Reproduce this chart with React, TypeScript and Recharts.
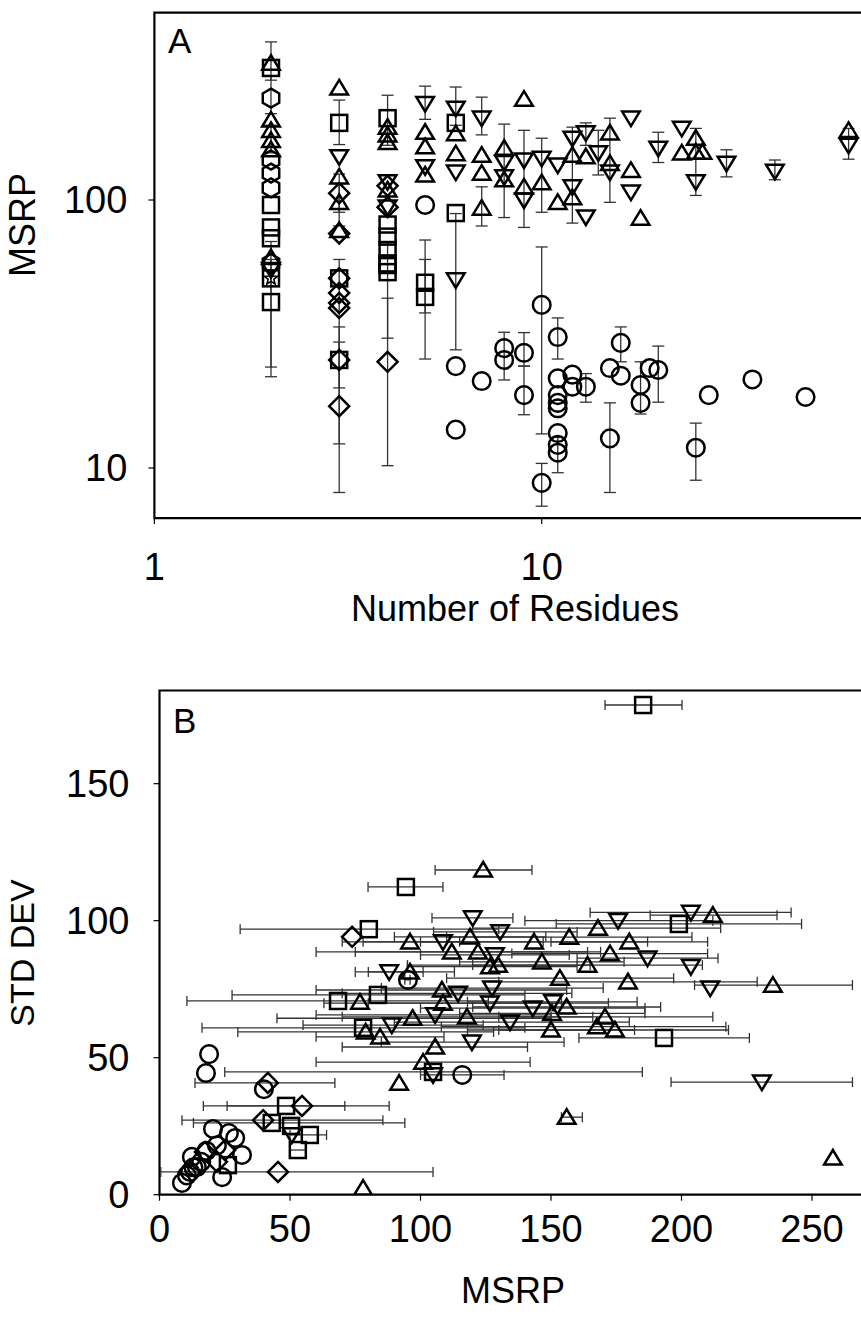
import React from "react";
import {
  ScatterChart,
  Scatter,
  XAxis,
  YAxis,
  ErrorBar,
  ReferenceArea,
} from "recharts";

// [x, y, lower bound, upper bound] – bounds are optional
type Pt = [number, number, number?, number?];

// Panel A: number of residues vs MSRP (log–log), vertical spread bars
const squaresA: Pt[] = [
  [2, 311], [2, 95.8], [2, 79], [2, 72], [2, 51], [2, 41.6, 21.9, 60],
  [3, 194, 161, 236], [3, 51], [3, 25.3, 12.3, 33.6],
  [4, 202, 160, 246], [4, 81], [4, 73], [4, 65], [4, 58], [4, 57.2, 30.5, 70], [4, 53.8],
  [5, 49.1, 37.9, 70.9], [5, 43.5, 25.5, 60],
  [6, 194], [6, 89.4],
];
const upA: Pt[] = [
  [2, 324, 280, 389], [2, 199], [2, 182], [2, 167, 150, 190], [2, 154], [2, 61],
  [3, 262], [3, 122], [3, 98, 80, 115], [3, 77],
  [4, 187], [4, 175], [4, 164], [4, 109],
  [5, 179], [5, 158], [5, 124],
  [6, 177], [6, 149],
  [7, 147], [7, 126], [7, 93.3, 80, 112],
  [8, 156], [8, 119],
  [9, 238], [9, 112],
  [10, 116], [11, 98],
  [12, 147, 82, 187], [12, 102],
  [13, 145],
  [15, 178], [15, 137, 98, 202],
  [17, 129], [18, 85.6], [23, 150],
  [25, 170], [25, 151, 104, 185], [26, 151],
  [62, 182],
];
const downA: Pt[] = [
  [2, 55],
  [3, 145],
  [4, 117], [4, 94],
  [5, 229, 200, 266], [5, 133],
  [6, 220, 190, 264], [6, 127], [6, 50.3, 27.6, 89],
  [7, 202, 175, 242],
  [8, 138, 86, 192], [8, 122],
  [9, 141, 79, 182], [9, 100],
  [10, 143, 90, 170],
  [11, 135],
  [12, 170], [12, 112],
  [13, 178, 160, 194], [13, 86.4],
  [14, 150, 124, 182],
  [15, 127],
  [17, 202], [17, 107],
  [20, 156, 138, 179],
  [23, 185], [25, 117],
  [30, 137, 122, 154],
  [40, 128, 119, 141],
  [62, 160, 142, 185],
];
const circlesA: Pt[] = [
  [5, 95.8],
  [6, 24.0], [6, 13.9],
  [7, 21.1],
  [8, 28, 21.3, 32.1], [8, 25.3],
  [9, 26.9, 24, 32], [9, 18.7, 15.8, 24],
  [10, 40.6, 13.4, 66.8], [10, 8.8, 7.2, 10.4],
  [11, 30.8, 25.5, 36.3], [11, 21.6], [11, 18.7], [11, 17.5], [11, 16.7], [11, 13.5], [11, 12.2], [11, 11.4, 9.6, 13],
  [12, 22.3], [12, 20.1],
  [13, 20.1, 17.6, 22.5],
  [15, 23.6], [15, 12.9, 8.1, 17.5],
  [16, 29.3, 24.9, 33.6], [16, 22.1],
  [18, 20.4, 15.9, 24.9], [18, 17.5],
  [19, 23.6],
  [20, 23.2, 17.6, 28.5],
  [25, 11.9, 9.0, 14.7],
  [27, 18.7], [35, 21.4], [48, 18.4],
];
const diamondsA: Pt[] = [
  [3, 106, 90, 125], [3, 75], [3, 51], [3, 45], [3, 41.3], [3, 39.5, 19.9, 60], [3, 25.3], [3, 17, 8.1, 29.5],
  [4, 113], [4, 94], [4, 24.9, 10.2, 43],
];
const hexagonsA: Pt[] = [[2, 240, 210, 290], [2, 141], [2, 126], [2, 111], [2, 58]];
const starsA: Pt[] = [[2, 51, 23.8, 70]];

const residueTicks = [1, 10];
const msrpLogTicks = [10, 100];

// Panel B: MSRP vs STD DEV, horizontal spread bars on MSRP
const squaresB: Pt[] = [
  [185.3, 178.7, 170.7, 200.2], [94.4, 112.3, 79.9, 108.6], [199, 98.8, 152, 246],
  [193.3, 57.2, 160.7, 226], [80.2, 96.9, 30.9, 130], [68.4, 70.7, 10.5, 126],
  [83.7, 72.9, 27.8, 140], [78, 60.9, 16.3, 140], [104.8, 44.8, 25, 185],
  [48.5, 32.4, 16.8, 88], [43, 26.2, 13, 94], [50.4, 25.1], [57.6, 21.8, 50, 64],
  [53, 16.3, 50, 56], [26.2, 10.8],
];
const upB: Pt[] = [
  [124, 118.5, 105.6, 142.7], [212, 102, 188, 236.6], [168, 97.3, 120, 215],
  [157, 94, 110, 204], [143.5, 92.3, 100, 187], [180, 92.3, 150, 210],
  [172.6, 88, 135, 210], [164, 83.8, 120, 208], [146.5, 85, 115, 178],
  [126.6, 83.2, 95, 160], [153.4, 79, 110, 197], [179.5, 77.7, 130, 229],
  [235, 76.5, 205, 265.5], [156, 68.5, 120, 192], [150.4, 66.2, 115, 186],
  [170.7, 64.9, 130, 212], [167.6, 61.3, 108, 217], [174.5, 60.1, 130, 218],
  [150, 60.1, 118, 182], [156, 28.3, 154, 162], [258, 13.4],
  [96, 92.3, 78, 115], [112, 88.6, 60, 164], [119, 94.1, 90, 148],
  [122, 88.6, 75, 169], [96, 81.3, 80, 113], [76.8, 70.3],
  [108.2, 74.7, 60, 156], [108.6, 69.9, 63, 154], [97, 64.4, 45, 150],
  [117.8, 64.9, 70, 166], [79, 59.4, 30, 128], [84.5, 57.6, 60, 109],
  [105.6, 53.9, 70, 141], [101, 48.4, 60, 142], [91.8, 40.7], [78, 2.4],
  [129.7, 83.8, 95, 165],
];
const downB: Pt[] = [
  [120, 101, 104.4, 135.4], [203.6, 103, 165, 242], [175.7, 100, 140, 212],
  [130.5, 95.9, 105, 160], [187, 86.3, 160, 214], [203.6, 83.2], [211, 75.4],
  [127.4, 75.4, 85, 170], [126.6, 69.9, 80, 172], [150.8, 70.4, 118, 183],
  [143, 68.1, 100, 186], [134.3, 63, 90, 180], [230.8, 41.1, 196, 265.5],
  [108.6, 92.3, 70, 147], [88, 81.3, 75, 101], [114.4, 73.5, 70, 158],
  [105.6, 65.6, 60, 150], [89, 61.9, 55, 124], [119.7, 55.7, 85, 155],
  [104.8, 43.7], [50.7, 21.8], [128.5, 87.5, 100, 157],
];
const circlesB: Pt[] = [
  [95.2, 78.4, 94, 96], [116, 43.7, 100, 132], [19, 51.3], [17.8, 44.4], [40, 38.5],
  [8.6, 4.3], [11.7, 8.3], [13, 10], [12.4, 13.8], [14.3, 10.1], [16, 12],
  [20.5, 24], [26.6, 22.5], [29, 20.7], [31.6, 14.5], [24, 6.4], [22, 18],
  [18, 16], [10.5, 7],
];
const diamondsB: Pt[] = [
  [73.8, 94.1], [41.5, 40.8, 13.6, 67.2], [54.6, 32.4, 25.9, 71],
  [39.7, 27.2, 8.6, 85.6], [17.4, 15.6], [25.1, 16.3], [22, 12],
  [45.4, 8.3, 0.5, 104.8],
];

const msrpTicks = [0, 50, 100, 150, 200, 250];
const sdTicks = [0, 50, 100, 150];

const FONT = "'Liberation Sans', Arial, Helvetica, sans-serif";

const withYErr = (pts: Pt[]) =>
  pts.map(([x, y, lo, hi]) => ({
    x,
    y,
    err: lo != null && hi != null ? [y - lo, hi - y] : undefined,
  }));
const withXErr = (pts: Pt[]) =>
  pts.map(([x, y, lo, hi]) => ({
    x,
    y,
    err: lo != null && hi != null ? [x - lo, hi - x] : undefined,
  }));

type Kind = "square" | "up" | "down" | "circle" | "diamond" | "hexagon" | "star";

const stroke = { fill: "none", stroke: "#000", strokeWidth: 2.5 };

const marker = (kind: Kind) => (props: any) => {
  const { cx, cy } = props;
  if (cx == null || cy == null || Number.isNaN(cx) || Number.isNaN(cy)) return <g />;
  switch (kind) {
    case "square":
      return <rect x={cx - 8} y={cy - 8} width={16} height={16} {...stroke} />;
    case "up":
      return <polygon points={`${cx},${cy - 8} ${cx + 8.8},${cy + 6.6} ${cx - 8.8},${cy + 6.6}`} {...stroke} />;
    case "down":
      return <polygon points={`${cx},${cy + 8} ${cx + 8.8},${cy - 6.6} ${cx - 8.8},${cy - 6.6}`} {...stroke} />;
    case "circle":
      return <circle cx={cx} cy={cy} r={8.8} {...stroke} />;
    case "diamond":
      return <polygon points={`${cx},${cy - 10} ${cx + 10},${cy} ${cx},${cy + 10} ${cx - 10},${cy}`} {...stroke} />;
    case "hexagon": {
      const r = 9.5;
      const pts = [0, 1, 2, 3, 4, 5]
        .map((i) => {
          const a = (Math.PI / 3) * i - Math.PI / 2;
          return `${cx + r * Math.cos(a)},${cy + r * Math.sin(a)}`;
        })
        .join(" ");
      return <polygon points={pts} {...stroke} />;
    }
    case "star": {
      const pts = Array.from({ length: 10 }, (_, i) => {
        const r = i % 2 === 0 ? 7 : 3;
        const a = (Math.PI / 5) * i - Math.PI / 2;
        return `${cx + r * Math.cos(a)},${cy + r * Math.sin(a)}`;
      }).join(" ");
      return <polygon points={pts} {...stroke} strokeWidth={1.6} />;
    }
  }
  return <g />;
};

const tickStyle = { fill: "#000", fontSize: 38, fontFamily: FONT };
const tickLine = { stroke: "#000", strokeWidth: 1.2 };
const barStyle = { stroke: "#333", strokeWidth: 1.3 };

const seriesA: [Pt[], Kind][] = [
  [circlesA, "circle"],
  [diamondsA, "diamond"],
  [squaresA, "square"],
  [hexagonsA, "hexagon"],
  [starsA, "star"],
  [upA, "up"],
  [downA, "down"],
];
const seriesB: [Pt[], Kind][] = [
  [circlesB, "circle"],
  [diamondsB, "diamond"],
  [squaresB, "square"],
  [upB, "up"],
  [downB, "down"],
];

// plot box A: x 154.4 → 929, y 12.7 → 518.1
const PanelA = () => (
  <ScatterChart width={1000} height={640} margin={{ top: 12.7, right: 71, bottom: 61.9, left: 54.4 }}>
    <XAxis
      type="number"
      dataKey="x"
      scale="log"
      domain={[1, 100]}
      allowDataOverflow
      ticks={residueTicks}
      interval={0}
      height={60}
      axisLine={false}
      tickLine={tickLine}
      tickSize={6}
      tickMargin={29}
      tick={tickStyle}
    />
    <YAxis
      type="number"
      dataKey="y"
      scale="log"
      domain={[6.5, 500]}
      allowDataOverflow
      ticks={msrpLogTicks}
      interval={0}
      width={100}
      axisLine={false}
      tickLine={tickLine}
      tickSize={6}
      tickMargin={21}
      tick={tickStyle}
    />
    <ReferenceArea x1={1} x2={100} y1={6.5} y2={500} fill="none" stroke="#000" strokeWidth={2.2} ifOverflow="visible" />
    {seriesA.map(([pts, kind]) => (
      <Scatter key={kind} data={withYErr(pts)} shape={marker(kind)} isAnimationActive={false}>
        <ErrorBar dataKey="err" direction="y" width={6} {...barStyle} />
      </Scatter>
    ))}
  </ScatterChart>
);

// plot box B: x 159.5 → 942.5, y 690.5 → 1194.7 (page coordinates)
const PanelB = () => (
  <ScatterChart width={1000} height={688} margin={{ top: 50.5, right: 57.5, bottom: 73.3, left: 59.5 }}>
    <XAxis
      type="number"
      dataKey="x"
      domain={[0, 300]}
      allowDataOverflow
      ticks={msrpTicks}
      interval={0}
      height={60}
      axisLine={false}
      tickLine={tickLine}
      tickSize={6}
      tickMargin={14}
      tick={tickStyle}
    />
    <YAxis
      type="number"
      dataKey="y"
      domain={[0, 184]}
      allowDataOverflow
      ticks={sdTicks}
      interval={0}
      width={100}
      axisLine={false}
      tickLine={tickLine}
      tickSize={6}
      tickMargin={24}
      tick={tickStyle}
    />
    <ReferenceArea x1={0} x2={300} y1={0} y2={184} fill="none" stroke="#000" strokeWidth={2.2} ifOverflow="visible" />
    {seriesB.map(([pts, kind]) => (
      <Scatter key={kind} data={withXErr(pts)} shape={marker(kind)} isAnimationActive={false}>
        <ErrorBar dataKey="err" direction="x" width={5} {...barStyle} />
      </Scatter>
    ))}
  </ScatterChart>
);

const App = () => (
  <div
    style={{
      position: "fixed",
      left: 0,
      top: 0,
      width: 861,
      height: 1328,
      overflow: "hidden",
      background: "#fff",
    }}
  >
    <div style={{ position: "absolute", left: 0, top: 0 }}>
      <PanelA />
    </div>
    <div style={{ position: "absolute", left: 0, top: 640 }}>
      <PanelB />
    </div>
    {/* axis titles and panel letters */}
    <svg width={861} height={1328} style={{ position: "absolute", left: 0, top: 0, pointerEvents: "none" }}>
      <g fontFamily={FONT} fill="#000">
        <text x={168} y={53} fontSize={35}>A</text>
        <text x={173} y={733} fontSize={35}>B</text>
        <text x={48} y={238} fontSize={36} textAnchor="middle" transform="rotate(-90 35 238)">
          MSRP
        </text>
        <text x={515} y={621} fontSize={36} textAnchor="middle">
          Number of Residues
        </text>
        <text x={46} y={965} fontSize={34} textAnchor="middle" transform="rotate(-90 34 965)">
          STD DEV
        </text>
        <text x={513} y={1303} fontSize={36} textAnchor="middle">
          MSRP
        </text>
      </g>
    </svg>
  </div>
);

export default App;
